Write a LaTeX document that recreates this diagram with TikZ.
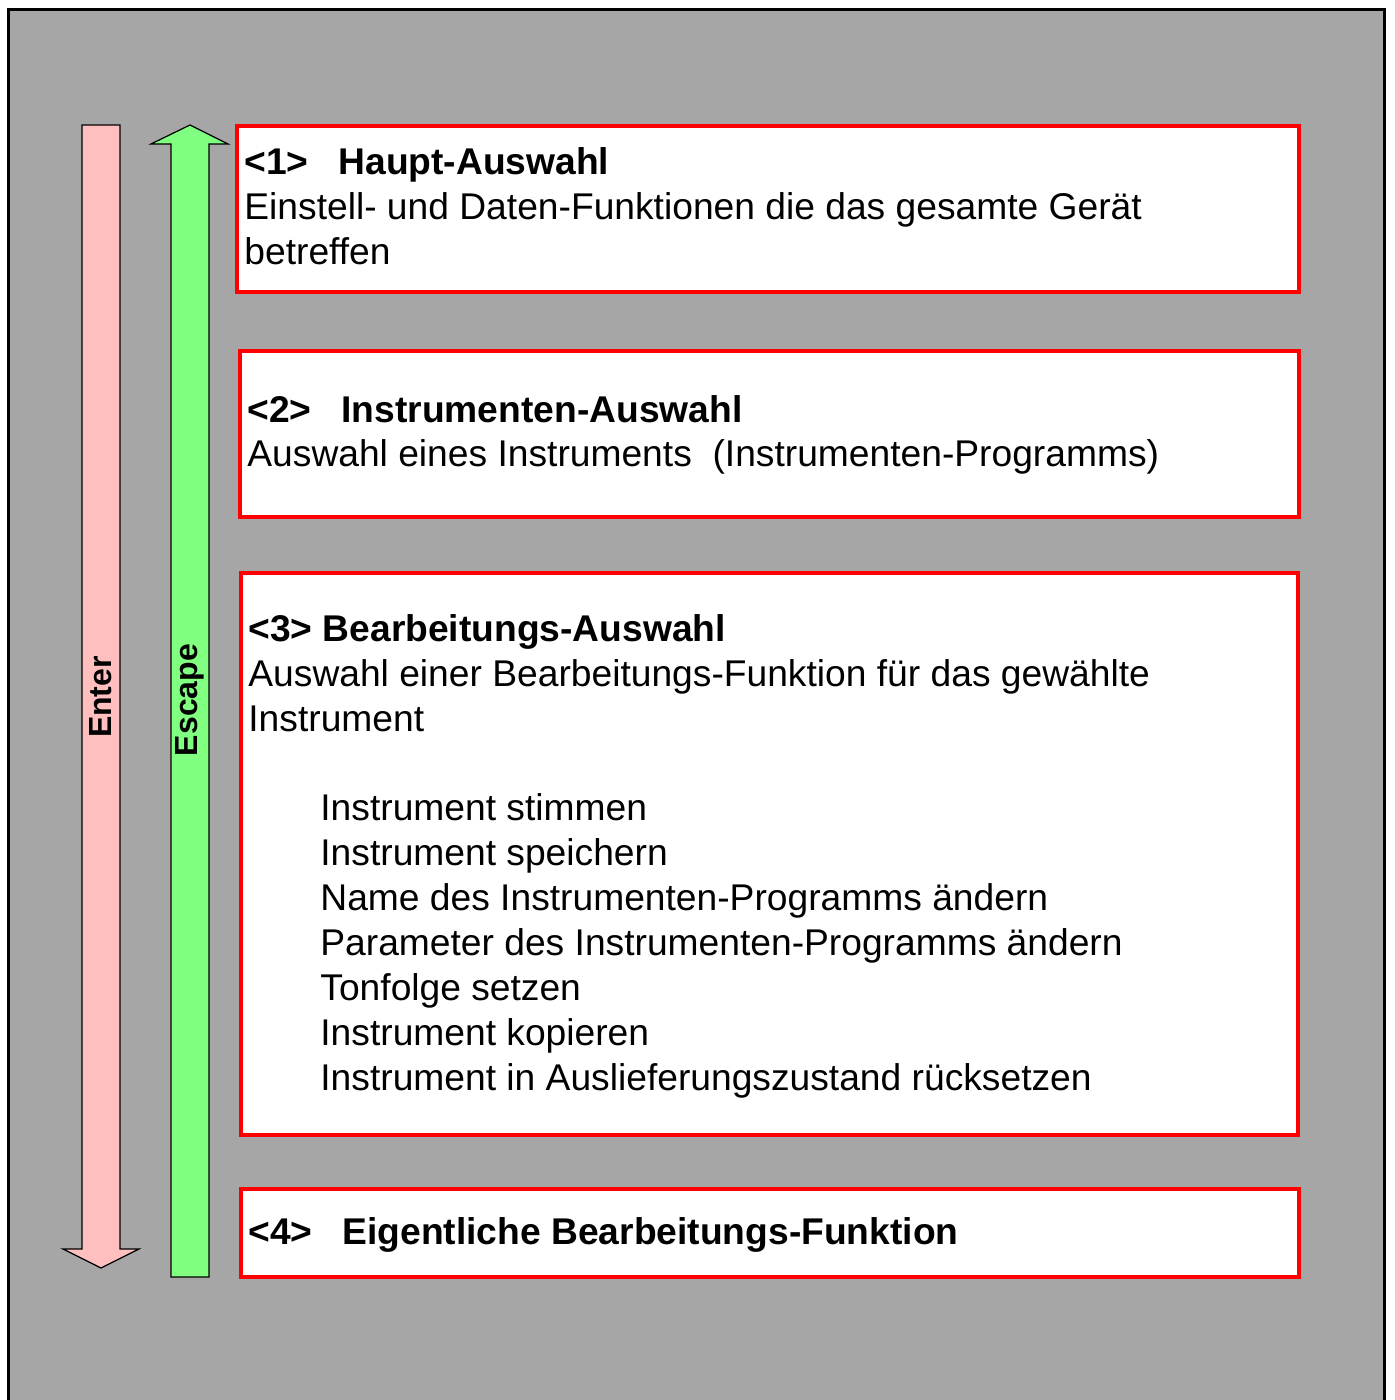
\documentclass[tikz,border=0pt]{standalone}
\usepackage{fontspec}
\setmainfont{Liberation Sans}
\definecolor{bggray}{RGB}{166,166,166}
\definecolor{enterpink}{RGB}{255,191,191}
\definecolor{escgreen}{RGB}{128,255,128}
\begin{document}
\begin{tikzpicture}[x=0.5pt,y=-0.5pt,
  redbox/.style={draw=red,fill=white,line width=1.75pt},
  arrowshape/.style={draw=black,line width=0.6pt,line join=miter},
  txt/.style={anchor=base west,inner sep=0pt,font=\fontsize{18.6pt}{22.5pt}\selectfont},
  head/.style={txt,font=\fontsize{18.6pt}{22.5pt}\selectfont\bfseries},
  vlabel/.style={rotate=90,inner sep=0pt,font=\fontsize{16pt}{18pt}\selectfont\bfseries}]
\useasboundingbox (0,0) rectangle (1394,1400);
\clip (0,0) rectangle (1394,1400);
\fill[white] (0,0) rectangle (1394,1400);
\draw[fill=bggray,line width=1.5pt] (8,10) rectangle (1384,1420);
% arrows
\draw[arrowshape,fill=enterpink] (82,125) -- (120,125) -- (120,1249) -- (139,1249) -- (101,1268) -- (63,1249) -- (82,1249) -- cycle;
\draw[arrowshape,fill=escgreen] (171,1277) -- (171,144) -- (151,144) -- (190,125) -- (228,144) -- (209,144) -- (209,1277) -- cycle;
\node[vlabel] (enter) at (101,697) {Enter};
\node[vlabel] (escape) at (190,700) {Escape};
% boxes
\draw[redbox] (237,126) rectangle (1299,292);
\draw[redbox] (240,351) rectangle (1299,517);
\draw[redbox] (241,573) rectangle (1298,1135);
\draw[redbox] (241,1189) rectangle (1299,1277);
% box 1
\node[head] (h1) at (244,175) {<1>\hspace{15pt}Haupt-Auswahl};
\node[txt] (b1a) at (244,220) {Einstell- und Daten-Funktionen die das gesamte Gerät};
\node[txt] (b1b) at (244,265) {betreffen};
% box 2
\node[head] (h2) at (247,423) {<2>\hspace{15pt}Instrumenten-Auswahl};
\node[txt] (b2a) at (247,467) {Auswahl eines Instruments \ (Instrumenten-Programms)};
% box 3
\node[head] (h3) at (248,641) {<3> Bearbeitungs-Auswahl};
\node[txt] (b3a) at (248,686) {Auswahl einer Bearbeitungs-Funktion für das gewählte};
\node[txt] (b3b) at (248,731) {Instrument};
\node[txt] (l1) at (320,820) {Instrument stimmen};
\node[txt] (l2) at (320,865) {Instrument speichern};
\node[txt] (l3) at (320,910) {Name des Instrumenten-Programms ändern};
\node[txt] (l4) at (320,955) {Parameter des Instrumenten-Programms ändern};
\node[txt] (l5) at (320,1000) {Tonfolge setzen};
\node[txt] (l6) at (320,1045) {Instrument kopieren};
\node[txt] (l7) at (320,1090) {Instrument in Auslieferungszustand rücksetzen};
% box 4
\node[head] (h4) at (248,1244) {<4>\hspace{15pt}Eigentliche Bearbeitungs-Funktion};
\end{tikzpicture}
\end{document}
